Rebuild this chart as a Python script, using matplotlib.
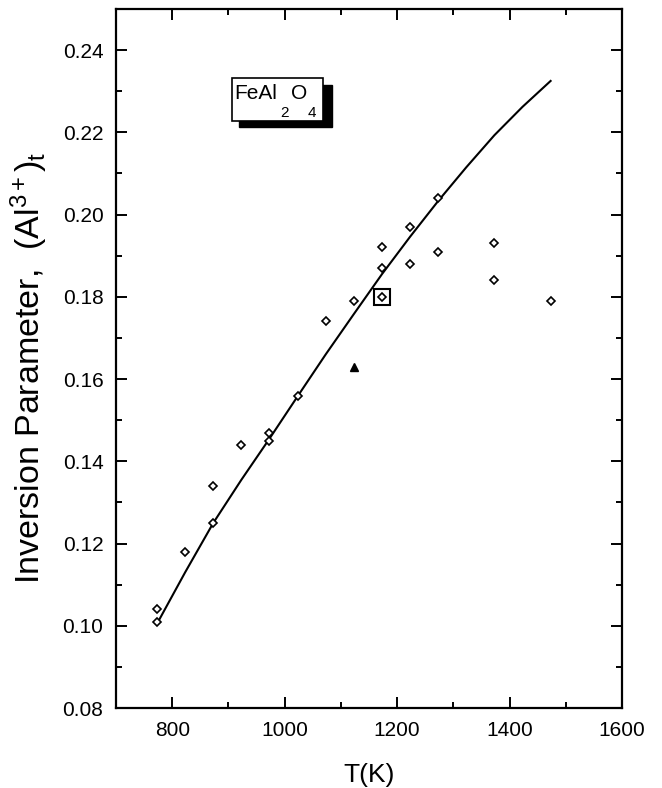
import matplotlib
matplotlib.use("Agg")
import matplotlib.pyplot as plt
from matplotlib import font_manager
from matplotlib.patches import Rectangle
from matplotlib.ticker import MultipleLocator, FormatStrFormatter

plt.rcParams['font.family'] = ['Liberation Sans', 'DejaVu Sans']
plt.rcParams['mathtext.fontset'] = 'custom'
plt.rcParams['mathtext.rm'] = 'Liberation Sans'
plt.rcParams['mathtext.it'] = 'Liberation Sans:italic'
plt.rcParams['mathtext.bf'] = 'Liberation Sans:bold'

try:
    font_manager.findfont('Liberation Sans Narrow', fallback_to_default=False)
    narrow = 'Liberation Sans Narrow'
except Exception:
    narrow = 'Liberation Sans'

# Measured inversion parameter (open diamonds)
T_data = [773, 773, 823, 873, 873, 923, 973, 973, 1023, 1073, 1123,
          1173, 1173, 1223, 1223, 1273, 1273, 1373, 1373, 1473]
x_data = [0.104, 0.101, 0.118, 0.134, 0.125, 0.144, 0.147, 0.145, 0.156, 0.174, 0.179,
          0.192, 0.187, 0.197, 0.188, 0.204, 0.191, 0.193, 0.184, 0.179]

# Highlighted (boxed) point
T_box = [1173]
x_box = [0.180]

# Filled triangle point
T_tri = [1123]
x_tri = [0.163]

# Model curve
T_fit = [773, 823, 873, 923, 973, 1023, 1073, 1123, 1173, 1223, 1273, 1323, 1373, 1423, 1473]
x_fit = [0.1005, 0.1130, 0.1250, 0.1355, 0.1455, 0.1558, 0.1660, 0.1758, 0.1855, 0.1946,
         0.2033, 0.2115, 0.2193, 0.2262, 0.2325]

fig = plt.figure(figsize=(6.62, 7.88), dpi=100)
ax = fig.add_axes([0.1752, 0.1015, 0.7644, 0.8871])

ax.plot(T_fit, x_fit, color='black', lw=1.5)
ax.plot(T_data, x_data, linestyle='none', marker='D', ms=3.9, mfc='white',
        mec='black', mew=1.2)
ax.plot(T_box, x_box, linestyle='none', marker='D', ms=3.9, mfc='white',
        mec='black', mew=1.2)
ax.plot(T_box, x_box, linestyle='none', marker='s', ms=11.5, mfc='none',
        mec='black', mew=1.5)
ax.plot(T_tri, x_tri, linestyle='none', marker='^', ms=6, mfc='black', mec='black')

ax.set_xlim(700, 1600)
ax.set_ylim(0.08, 0.25)
ax.xaxis.set_major_locator(MultipleLocator(200))
ax.xaxis.set_minor_locator(MultipleLocator(100))
ax.yaxis.set_minor_locator(MultipleLocator(0.01))
ax.set_yticks([0.08, 0.10, 0.12, 0.14, 0.16, 0.18, 0.20, 0.22, 0.24])
ax.yaxis.set_major_formatter(FormatStrFormatter('%.2f'))

ax.tick_params(which='both', direction='in', top=True, right=True, width=1.4)
ax.tick_params(which='major', length=8, labelsize=15, pad=9)
ax.tick_params(which='minor', length=4.5)
for s in ax.spines.values():
    s.set_linewidth(1.6)

ax.set_xlabel('T(K)', fontsize=19, family=[narrow, 'Liberation Sans'], labelpad=17)
ax.set_ylabel(r'Inversion Parameter,  (Al$^{3+}$)$_\mathrm{t}$', fontsize=24.5, labelpad=9)
ax.yaxis.label.set_y(0.486)

# Label box with shadow
ax.add_patch(Rectangle((0.2431, 0.8316), 0.1832, 0.0597, transform=ax.transAxes,
                       facecolor='black', edgecolor='black', zorder=4))
ax.add_patch(Rectangle((0.2292, 0.8398), 0.1798, 0.0615, transform=ax.transAxes,
                       facecolor='white', edgecolor='black', lw=1.2, zorder=5))
ax.text(0.2332, 0.8708, 'FeAl', transform=ax.transAxes, fontsize=15,
        ha='left', va='baseline', zorder=6)
ax.text(0.3241, 0.8459, '2', transform=ax.transAxes, fontsize=11,
        ha='left', va='baseline', zorder=6)
ax.text(0.3453, 0.8708, 'O', transform=ax.transAxes, fontsize=15,
        ha='left', va='baseline', zorder=6)
ax.text(0.3781, 0.8459, '4', transform=ax.transAxes, fontsize=11,
        ha='left', va='baseline', zorder=6)

fig.savefig('out.png', dpi=100)
